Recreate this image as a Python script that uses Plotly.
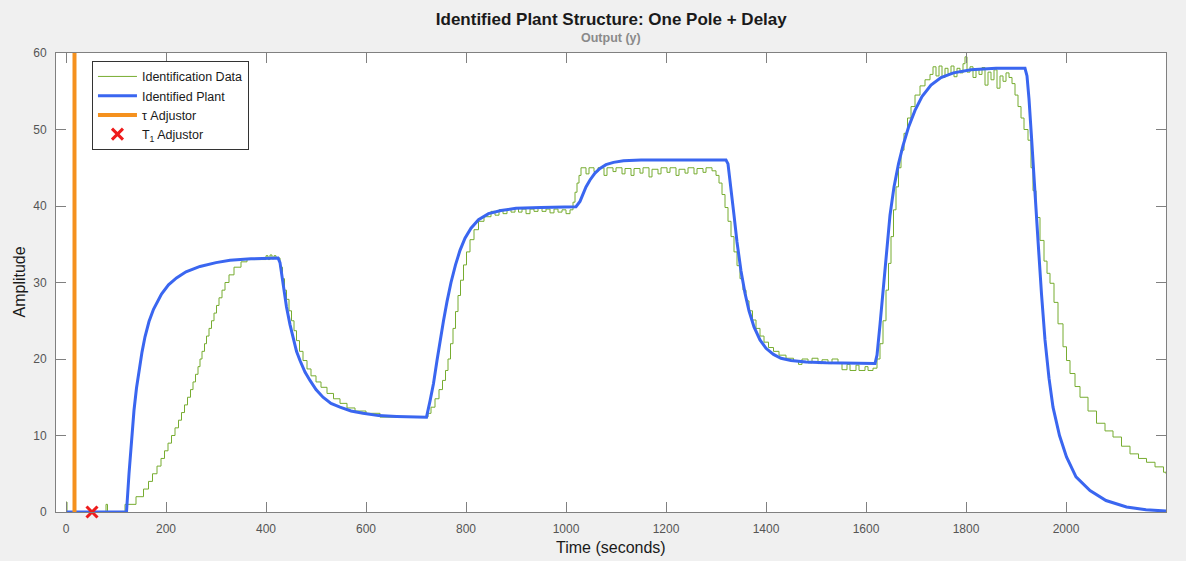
import plotly.graph_objects as go

# ---------------- data ----------------
# Identification data (staircase, drawn with hv steps)
t_data = [0, 2, 80, 83, 118, 140, 155, 165, 173, 182, 190, 197, 204, 211, 218, 225, 231, 237, 243, 249,
          254, 259, 264, 268, 272, 277, 281, 286, 291, 296, 301, 306, 312, 318, 326, 336, 350, 362,
          400, 404, 408, 412, 416, 420,
          428, 433, 437, 441, 446, 451, 456, 461, 467, 474, 482, 490, 500, 510, 522, 535, 548, 562, 578, 600, 628,
          724, 730, 738, 746, 753, 759, 764, 769, 774, 779, 784, 789, 795, 801, 808, 816, 825, 836,
          850, 858, 866, 874, 882, 890, 898, 905, 912, 920, 928, 936, 944, 952, 960, 968, 976, 984, 992, 1000, 1008,
          1014, 1018, 1022, 1026, 1030,
          1040, 1046, 1056, 1064, 1076, 1082, 1094, 1100, 1112, 1118, 1130, 1136, 1148, 1154, 1166, 1172, 1184,
          1190, 1202, 1208, 1220, 1226, 1238, 1244, 1256, 1262, 1274, 1280, 1292,
          1300, 1306, 1312, 1318, 1324, 1330, 1336, 1342, 1348, 1354, 1360, 1366, 1373, 1380, 1388, 1396, 1405,
          1415, 1426, 1440,
          1455, 1465, 1472, 1484, 1492, 1504, 1512, 1524, 1532, 1544, 1552, 1562, 1568, 1580, 1586, 1598, 1604, 1614,
          1622, 1628, 1634, 1640, 1645, 1650, 1655, 1660, 1665, 1670, 1676, 1683, 1690, 1698, 1708, 1718, 1728,
          1734, 1740, 1746, 1752, 1758, 1764, 1770, 1776, 1782, 1788, 1794, 1798, 1802, 1808, 1814, 1820, 1826,
          1832, 1838, 1844, 1850, 1856, 1862, 1868, 1874, 1880, 1886,
          1892, 1898, 1904, 1910, 1916, 1924, 1930, 1934, 1940, 1948, 1956, 1962, 1968, 1976, 1984, 1994, 2001,
          2008, 2018, 2028, 2044, 2061, 2078, 2094, 2111, 2128, 2145, 2161, 2178, 2195, 2200]
y_data = [1.3, 0, 1.0, 0, 1.0, 2, 3, 4, 5, 6, 7, 8, 9, 10, 11, 12, 13, 14, 15, 16,
          17, 18, 19, 20, 21, 22, 23, 24, 25, 26, 27, 28, 29, 30, 31, 32, 32.7, 33.0,
          33.5, 33.0, 33.6, 33.1, 33.5, 33.2,
          32.0, 30.5, 29.0, 27.8, 26.3, 25.0, 23.7, 22.4, 21.0, 19.8, 18.7, 17.8, 17.0, 16.3, 15.5, 14.8, 14.2, 13.6, 13.2, 12.9, 12.4,
          12.9, 13.7, 14.8, 16.0, 17.2, 18.5, 20.0, 22.0, 24.0, 26.2, 28.3, 30.3, 32.3, 34.0, 35.6, 36.9, 38.0, 38.6,
          39.3, 38.8, 39.5, 39.0, 39.6, 39.2, 39.8, 39.2, 39.6, 39.0, 39.6, 39.3, 39.8, 39.3, 39.6, 39.1, 39.6, 39.2, 39.5, 39.0, 39.5,
          40.5, 41.8, 43.0, 44.0, 45.0,
          44.2, 45.0, 44.5, 45.0, 44.0, 45.0, 44.5, 45.0, 44.2, 44.9, 44.0, 44.9, 44.3, 45.0, 43.8, 44.8, 44.2,
          45.0, 44.4, 45.0, 44.0, 44.8, 44.3, 45.0, 44.2, 44.9, 44.4, 45.0, 44.6,
          44.0, 43.0, 41.5, 39.8, 38.0, 36.0, 34.0, 32.2, 30.5, 29.0, 27.6, 26.3, 25.1, 24.0, 23.0, 22.2, 21.5,
          21.0, 20.5, 20.1,
          19.8, 19.3, 20.0, 19.5, 20.1, 19.4, 19.9, 19.4, 20.0, 19.5, 18.6, 19.3, 18.5, 19.2, 18.5, 19.0, 18.5, 18.8,
          20.0, 22.0, 25.0, 29.0, 32.5, 36.0, 39.5, 42.5, 45.0, 47.3, 49.5, 51.5, 53.0, 54.5, 55.7, 56.5, 57.2,
          58.2, 57.0, 58.3, 56.8, 58.0, 57.3, 58.3, 56.9, 58.0, 57.4, 58.6, 59.5, 57.5, 58.2, 56.8, 57.9, 57.2,
          58.1, 55.8, 57.5, 56.5, 57.8, 55.4, 57.0, 56.3, 57.4, 56.8,
          56.0, 54.5, 53.0, 51.5, 50.0, 48.6, 45.0, 42.0, 38.5, 35.5, 32.8, 31.2, 29.9, 27.4, 24.6, 21.6, 19.8,
          18.1, 16.4, 15.0, 13.2, 11.6, 10.6, 9.8, 8.6, 7.6, 7.0, 6.5, 5.9, 5.2, 5.0]

# Identified plant response
t_plant = [0, 121, 126, 131, 136, 141, 146, 152, 158, 166, 175, 183, 191, 205, 221, 240, 268, 300, 328, 370, 424,
           428, 432, 436, 441, 448, 455, 461, 468, 478, 488, 500, 514, 530, 548, 570, 594, 625, 661, 721,
           728, 735, 742, 748, 755, 762, 770, 779, 788, 798, 810, 825, 845, 870, 900, 950, 1020,
           1028, 1034, 1040, 1048, 1058, 1068, 1080, 1095, 1115, 1150, 1320,
           1324, 1330, 1336, 1342, 1350, 1358, 1366, 1376, 1388, 1400, 1415, 1430, 1450, 1480, 1520, 1618,
           1622, 1628, 1634, 1641, 1648, 1656, 1665, 1674, 1685, 1698, 1712, 1730, 1750, 1775, 1810, 1860, 1918,
           1922, 1926, 1931, 1937, 1944, 1951, 1958, 1966, 1974, 1987, 2001, 2020, 2048, 2080, 2121, 2160, 2200]
y_plant = [0, 0, 5.0, 9.8, 13.3, 16.2, 18.5, 20.9, 22.9, 24.9, 26.5, 27.6, 28.5, 29.7, 30.6, 31.4, 32.1, 32.6, 32.9, 33.1, 33.2,
           32.6, 30.6, 28.8, 26.8, 24.5, 22.5, 21.0, 19.8, 18.3, 17.2, 16.0, 15.0, 14.2, 13.7, 13.2, 12.9, 12.6, 12.5, 12.4,
           14.5, 16.8, 19.8, 22.5, 25.0, 27.5, 30.0, 32.3, 34.2, 35.8, 37.1, 38.2, 39.0, 39.4, 39.7, 39.8, 39.9,
           40.6, 41.6, 42.5, 43.4, 44.3, 44.9, 45.4, 45.7, 45.9, 46.0, 46.0,
           45.5, 42.5, 38.8, 35.3, 31.5, 28.6, 26.3, 24.2, 22.5, 21.4, 20.6, 20.1, 19.8, 19.6, 19.5, 19.4,
           20.5, 24.5, 29.0, 34.2, 38.8, 42.5, 45.5, 47.9, 50.3, 52.5, 54.3, 55.8, 56.8, 57.4, 57.8, 58.0, 58.0,
           57.0, 54.0, 49.0, 42.3, 35.5, 28.5, 22.5, 17.5, 13.7, 10.0, 7.2, 4.6, 2.8, 1.5, 0.65, 0.3, 0.12]

tau_x = [17, 17]
tau_y = [0, 60]
t1_x = [52]
t1_y = [0]

x_ticks = [0, 200, 400, 600, 800, 1000, 1200, 1400, 1600, 1800, 2000]
y_ticks = [0, 10, 20, 30, 40, 50, 60]

# ---------------- figure ----------------
fig = go.Figure()
fig.add_trace(go.Scatter(x=t_data, y=y_data, mode="lines", name="Identification Data",
                         line=dict(color="#77ac30", width=1, shape="hv")))
fig.add_trace(go.Scatter(x=t_plant, y=y_plant, mode="lines", name="Identified Plant",
                         line=dict(color="#3a66f0", width=3)))
fig.add_trace(go.Scatter(x=tau_x, y=tau_y, mode="lines", name="τ Adjustor",
                         line=dict(color="#f5911e", width=4)))
fig.add_trace(go.Scatter(x=t1_x, y=t1_y, mode="markers", name="T<sub>1</sub> Adjustor", cliponaxis=False,
                         marker=dict(symbol="x-thin", size=11, color="#ee1c1c",
                                     line=dict(width=3, color="#ee1c1c"))))

axis_color = "#808080"
fig.update_xaxes(range=[-20, 2200], tickvals=x_ticks, ticks="inside", ticklen=10, tickcolor=axis_color,
                 showline=True, linecolor=axis_color, linewidth=1, mirror="ticks", showgrid=False,
                 zeroline=False, tickfont=dict(size=12, color="#555555"), ticklabelstandoff=6)
fig.update_yaxes(range=[0, 60], tickvals=y_ticks, ticks="inside", ticklen=10, tickcolor=axis_color,
                 showline=True, linecolor=axis_color, linewidth=1, mirror="ticks", showgrid=False,
                 zeroline=False, tickfont=dict(size=12, color="#555555"), ticklabelstandoff=6)

fig.update_layout(
    width=1186, height=561, autosize=False,
    margin=dict(l=56, r=20, t=53, b=49),
    paper_bgcolor="#f0f0f0", plot_bgcolor="#ffffff",
    font=dict(family="Liberation Sans, Arial, sans-serif", color="#262626"),
    title=dict(text="<b>Identified Plant Structure: One Pole + Delay</b>", x=0.5154, xanchor="center",
               y=1 - 19 / 561, yref="container", yanchor="middle", font=dict(size=17, color="#1a1a1a")),
    showlegend=True,
    legend=dict(x=0.0324, y=0.983, xanchor="left", yanchor="top", bgcolor="#ffffff",
                bordercolor="#333333", borderwidth=1, font=dict(size=12.5, color="#1a1a1a"),
                tracegroupgap=0, itemwidth=39),
    annotations=[
        dict(text="<b>Output (y)</b>", xref="paper", yref="paper", x=0.5, y=1 + 15 / 459, xanchor="center",
             yanchor="middle", showarrow=False, font=dict(size=12.5, color="#8a8a8a")),
        dict(text="Time (seconds)", xref="paper", yref="paper", x=0.5, y=-35 / 459, xanchor="center",
             yanchor="middle", showarrow=False, font=dict(size=16, color="#1a1a1a")),
        dict(text="Amplitude", xref="paper", yref="paper", x=-37 / 1110, y=0.5, xanchor="center",
             yanchor="middle", textangle=-90, showarrow=False, font=dict(size=16, color="#1a1a1a")),
    ],
)

fig.write_html("out.html")
